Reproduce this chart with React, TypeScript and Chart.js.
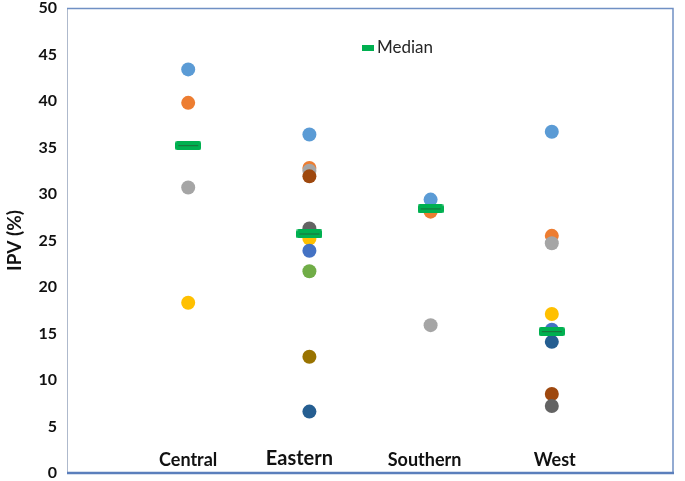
import React, { useEffect, useRef } from 'react';
import { Chart, registerables } from 'chart.js';

Chart.register(...registerables);

// ---- data ----
const categories = ['Central', 'Eastern', 'Southern', 'West'];
const seriesBlue = [43.4, 36.4, 29.4, 36.7];
const seriesOrange = [39.8, 32.8, 28.1, 25.5];
const seriesGray = [30.7, 32.5, 15.9, 24.7];
const seriesYellow = [18.3, 25.2, null, 17.1];
const seriesRoyal = [null, 23.9, null, 15.4];
const seriesGreen = [null, 21.7, null, null];
const seriesDarkBlue = [null, 6.6, null, 14.1];
const seriesBrown = [null, 31.9, null, 8.5];
const seriesDarkGray = [null, 26.3, null, 7.2];
const seriesOlive = [null, 12.5, null, null];
const medianValues = [35.2, 25.7, 28.4, 15.2];
const yMin = 0;
const yMax = 50;
const yStep = 5;

const seriesList: { values: (number | null)[]; color: string }[] = [
  { values: seriesBlue, color: '#5B9BD5' },
  { values: seriesOrange, color: '#ED7D31' },
  { values: seriesGray, color: '#A5A5A5' },
  { values: seriesYellow, color: '#FFC000' },
  { values: seriesRoyal, color: '#4472C4' },
  { values: seriesGreen, color: '#70AD47' },
  { values: seriesDarkBlue, color: '#255E91' },
  { values: seriesBrown, color: '#9E480E' },
  { values: seriesDarkGray, color: '#636363' },
  { values: seriesOlive, color: '#997300' },
];

const FONT = 'Lato, "Open Sans", "DejaVu Sans", sans-serif';

function toPoints(values: (number | null)[]) {
  const pts: { x: number; y: number }[] = [];
  values.forEach((v, i) => {
    if (v !== null && v !== undefined) pts.push({ x: i + 1, y: v });
  });
  return pts;
}

function makeMedianMarker(w: number, h: number) {
  const c = document.createElement('canvas');
  c.width = w;
  c.height = h;
  const ctx = c.getContext('2d')!;
  ctx.fillStyle = '#00B050';
  const r = 2;
  ctx.beginPath();
  ctx.moveTo(r, 0);
  ctx.lineTo(w - r, 0);
  ctx.quadraticCurveTo(w, 0, w, r);
  ctx.lineTo(w, h - r);
  ctx.quadraticCurveTo(w, h, w - r, h);
  ctx.lineTo(r, h);
  ctx.quadraticCurveTo(0, h, 0, h - r);
  ctx.lineTo(0, r);
  ctx.quadraticCurveTo(0, 0, r, 0);
  ctx.fill();
  ctx.strokeStyle = '#1E6B3A';
  ctx.lineWidth = 1;
  ctx.beginPath();
  ctx.moveTo(3, Math.floor(h / 2) + 0.5);
  ctx.lineTo(w - 3, Math.floor(h / 2) + 0.5);
  ctx.stroke();
  return c;
}

const framePlugin = {
  id: 'frameAndLabels',
  beforeDatasetsDraw(chart: any) {
    const { ctx, chartArea } = chart;
    const { left, top, right, bottom } = chartArea;
    ctx.save();
    // left
    ctx.strokeStyle = '#AEB9CC';
    ctx.lineWidth = 1;
    ctx.beginPath();
    ctx.moveTo(left + 0.5, top);
    ctx.lineTo(left + 0.5, bottom);
    ctx.stroke();
    // top & right
    ctx.strokeStyle = '#7090C4';
    ctx.lineWidth = 1.5;
    ctx.beginPath();
    ctx.moveTo(left, top + 0.5);
    ctx.lineTo(right, top + 0.5);
    ctx.lineTo(right, bottom);
    ctx.stroke();
    // bottom
    ctx.strokeStyle = '#5B7FBC';
    ctx.lineWidth = 2.5;
    ctx.beginPath();
    ctx.moveTo(left, bottom);
    ctx.lineTo(right + 1, bottom);
    ctx.stroke();

    // category labels
    const xs = chart.scales.x;
    const offsets = [0, -10, -6, 3];
    const sizes = [18, 20, 18, 18];
    ctx.fillStyle = '#111';
    ctx.textAlign = 'center';
    ctx.textBaseline = 'alphabetic';
    categories.forEach((c, i) => {
      ctx.font = `bold ${sizes[i]}px ${FONT}`;
      ctx.fillText(c, xs.getPixelForValue(i + 1) + offsets[i], bottom - 7 - (i === 1 ? 1 : 0));
    });

    // legend
    ctx.fillStyle = '#00B050';
    ctx.fillRect(362, 45, 12, 6);
    ctx.fillStyle = '#262626';
    ctx.font = `17px ${FONT}`;
    ctx.textAlign = 'left';
    ctx.textBaseline = 'middle';
    ctx.fillText('Median', 377, 48);
    ctx.restore();
  },
};

export default function App() {
  const ref = useRef<HTMLCanvasElement>(null);
  useEffect(() => {
    if (!ref.current) return;
    const marker = makeMedianMarker(26, 9);
    const n = seriesList.length;
    const datasets: any[] = seriesList.map((s, i) => ({
      label: 'Series ' + (i + 1),
      data: toPoints(s.values),
      backgroundColor: s.color,
      borderColor: s.color,
      borderWidth: 0,
      pointRadius: 7,
      pointHoverRadius: 7,
      order: n - i,
    }));
    datasets.push({
      label: 'Median',
      data: toPoints(medianValues),
      pointStyle: marker,
      pointRadius: 8,
      backgroundColor: '#00B050',
      borderWidth: 0,
      order: 0,
    });
    const chart = new Chart(ref.current, {
      type: 'scatter',
      data: { datasets },
      plugins: [framePlugin],
      options: {
        animation: false,
        responsive: false,
        maintainAspectRatio: false,
        layout: { padding: { top: 8, right: 12, bottom: 7, left: 0 } },
        plugins: { legend: { display: false }, tooltip: { enabled: false } },
        scales: {
          x: { type: 'linear', min: 0, max: 5, display: false },
          y: {
            type: 'linear',
            min: yMin,
            max: yMax,
            ticks: {
              stepSize: yStep,
              color: '#111',
              font: { family: FONT, size: 16, weight: 'bold' },
              padding: 10,
            },
            grid: { display: false, drawTicks: false },
            border: { display: false },
            title: {
              display: true,
              text: 'IPV (%)',
              color: '#111',
              font: { family: FONT, size: 19, weight: 'bold' },
              padding: { top: 3, bottom: 0 },
            },
            afterFit: (scale: any) => {
              scale.width = 67;
              scale.paddingTop = 0;
              scale.paddingBottom = 0;
            },
          },
        },
      },
    } as any);
    return () => chart.destroy();
  }, []);
  return (
    <div style={{ position: 'fixed', left: 0, top: 0, width: 685, height: 481, background: '#fff' }}>
      <canvas ref={ref} width={685} height={481} style={{ width: 685, height: 481 }} />
    </div>
  );
}
